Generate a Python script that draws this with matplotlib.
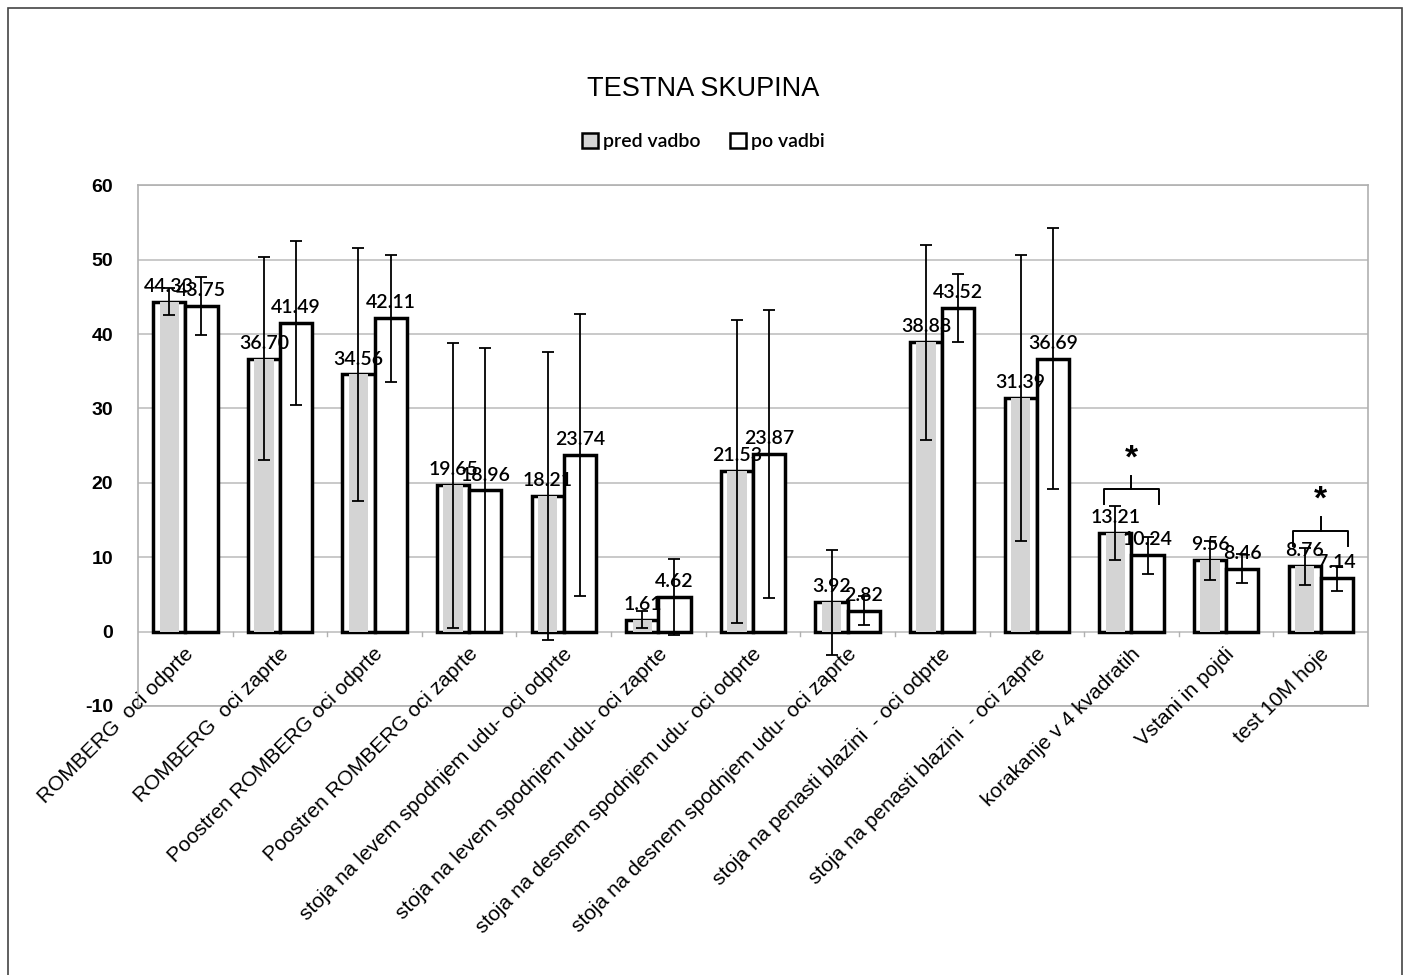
import numpy as np
import matplotlib.pyplot as plt
from matplotlib.patches import Rectangle

categories = [
    "ROMBERG  oci odprte",
    "ROMBERG  oci zaprte",
    "Poostren ROMBERG oci odprte",
    "Poostren ROMBERG oci zaprte",
    "stoja na levem spodnjem udu- oci odprte",
    "stoja na levem spodnjem udu- oci zaprte",
    "stoja na desnem spodnjem udu- oci odprte",
    "stoja na desnem spodnjem udu- oci zaprte",
    "stoja na penasti blazini  - oci odprte",
    "stoja na penasti blazini  - oci zaprte",
    "korakanje v 4 kvadratih",
    "Vstani in pojdi",
    "test 10M hoje",
]
pred_vadbo = [44.33, 36.70, 34.56, 19.65, 18.21, 1.61, 21.53, 3.92, 38.88, 31.39, 13.21, 9.56, 8.76]
po_vadbi = [43.75, 41.49, 42.11, 18.96, 23.74, 4.62, 23.87, 2.82, 43.52, 36.69, 10.24, 8.46, 7.14]
pred_sd = [1.8, 13.7, 17.0, 19.2, 19.4, 1.2, 20.4, 7.1, 13.1, 19.2, 3.6, 2.6, 2.5]
po_sd = [3.9, 11.0, 8.5, 19.2, 19.0, 5.1, 19.4, 1.9, 4.6, 17.5, 2.5, 1.9, 1.7]
significant = [10, 12]
series_names = ["pred vadbo", "po vadbi"]

plt.rcParams["font.family"] = ["Liberation Sans", "DejaVu Sans"]
plt.rcParams["axes.unicode_minus"] = False

fig = plt.figure(figsize=(14.1, 9.75), dpi=100)
ax = fig.add_axes([0.0979, 0.276, 0.8723, 0.534])

x = np.arange(len(categories))
w = 0.34
xp = x - w / 2
xq = x + w / 2

# pred vadbo: white frame with grey inside
ax.bar(xp, pred_vadbo, w, color="white", edgecolor="black", linewidth=2.5, zorder=3)
ax.bar(xp, pred_vadbo, w * 0.6, color="#d4d4d4", edgecolor="none", zorder=3.5)
ax.bar(xq, po_vadbi, w, color="white", edgecolor="black", linewidth=2.5, zorder=3)

ax.errorbar(xp, pred_vadbo, yerr=pred_sd, fmt="none", ecolor="black",
            elinewidth=1.3, capsize=4, capthick=1.3, zorder=5)
ax.errorbar(xq, po_vadbi, yerr=po_sd, fmt="none", ecolor="black",
            elinewidth=1.3, capsize=4, capthick=1.3, zorder=5)

num_font = dict(fontsize=14, family=["Lato", "DejaVu Sans"], fontweight="semibold")
for xs, vals in ((xp, pred_vadbo), (xq, po_vadbi)):
    for xi, v in zip(xs, vals):
        ax.annotate(f"{v:.2f}", (xi, v), xytext=(0, 5), textcoords="offset points",
                    ha="center", va="bottom", zorder=6, **num_font)

# significance brackets
for i in significant:
    top = max(pred_vadbo[i] + pred_sd[i], po_vadbi[i] + po_sd[i]) + 0.3
    yh = top + 2.0
    ax.plot([i - 0.29, i - 0.29, i + 0.29, i + 0.29], [top, yh, yh, top],
            color="black", lw=1.4, zorder=6)
    ax.plot([i, i], [yh, yh + 1.8], color="black", lw=1.4, zorder=6)
    ax.text(i, yh + 2.0, "*", ha="center", va="bottom", fontsize=24, fontweight="bold")

ax.set_xlim(-0.5, len(categories) - 0.5)
ax.set_ylim(-10, 60)
ax.set_yticks(range(-10, 61, 10))
ax.tick_params(axis="y", length=0, labelsize=14, pad=18)
for t in ax.get_yticklabels():
    t.set_fontweight("bold")
ax.set_xticks([])
ax.yaxis.grid(True, color="#c0c0c0", linewidth=1.2, zorder=0)
ax.set_axisbelow(True)
for s in ax.spines.values():
    s.set_color("#b0b0b0")
    s.set_linewidth(1.2)

# small ticks on zero line between categories
for b in np.arange(0.5, len(categories) - 0.5, 1):
    ax.plot([b, b], [0, -0.6], color="#b0b0b0", lw=1, zorder=1)

for xi, lab in zip(x, categories):
    ax.annotate(lab, (xi, 0), xytext=(4, -14), textcoords="offset points",
                ha="right", va="center", rotation=45, rotation_mode="anchor",
                fontsize=15)

fig.text(0.4985, 0.909, "TESTNA SKUPINA", ha="center", va="center", fontsize=19.5)

handles = [
    Rectangle((0, 0), 1, 1, facecolor="#d4d4d4", edgecolor="black", linewidth=1.8),
    Rectangle((0, 0), 1, 1, facecolor="white", edgecolor="black", linewidth=1.8),
]
fig.legend(handles, series_names, loc="center", bbox_to_anchor=(0.499, 0.855), ncol=2,
           frameon=False, handlelength=0.8, handleheight=0.8,
           handletextpad=0.3, columnspacing=1.5,
           prop={"family": ["Lato", "DejaVu Sans"], "size": 14, "weight": "semibold"})

fig.patches.append(Rectangle((0.006, -0.01), 0.988, 1.002, transform=fig.transFigure,
                             fill=False, edgecolor="#444444", linewidth=1.2))

fig.savefig("out.png", dpi=100)
